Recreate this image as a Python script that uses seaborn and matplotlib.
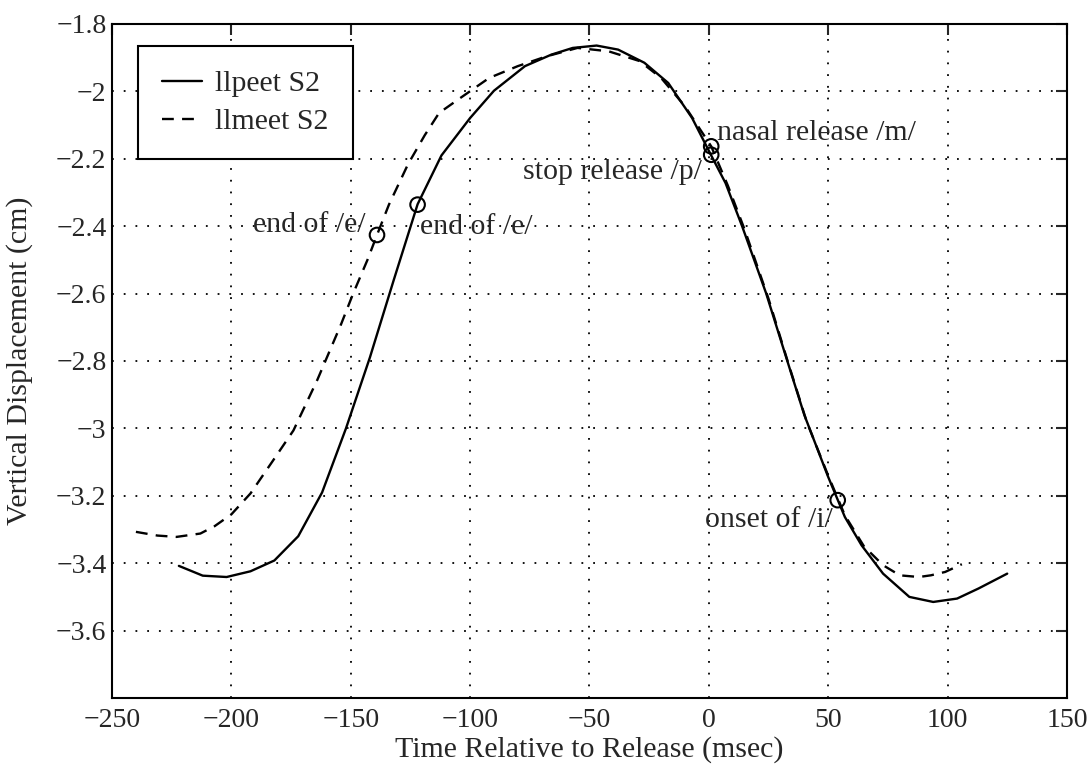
import numpy as np
import pandas as pd
import matplotlib
matplotlib.use("Agg")
import matplotlib.pyplot as plt
import seaborn as sns

# ---- data ----
peet_t = [-222, -212, -202, -192, -182, -172, -162, -152, -142, -132, -122, -112,
          -100, -90, -77, -66, -57, -47, -38, -27, -17, -7, 1, 7, 14, 24, 32, 40,
          50, 57, 64, 73, 84, 94, 104, 113, 125]
peet_y = [-3.408, -3.437, -3.441, -3.424, -3.392, -3.320, -3.190, -3.000, -2.790,
          -2.560, -2.335, -2.190, -2.079, -1.998, -1.925, -1.891, -1.871, -1.864,
          -1.876, -1.915, -1.975, -2.079, -2.190, -2.272, -2.401, -2.599, -2.780,
          -2.960, -3.144, -3.263, -3.347, -3.431, -3.500, -3.515, -3.505, -3.475,
          -3.431]

meet_t = [-240, -231, -223, -213, -207, -200, -192, -183, -174, -164, -154, -149,
          -143, -139, -134, -126, -119, -113, -105, -92, -80, -68, -55, -42, -29,
          -20, -10, 1, 8, 15, 25, 33, 41, 50, 57, 65, 73, 80, 88, 93, 99, 106]
meet_y = [-3.307, -3.318, -3.322, -3.312, -3.290, -3.255, -3.193, -3.100, -3.006,
          -2.856, -2.690, -2.600, -2.500, -2.426, -2.336, -2.216, -2.130, -2.064,
          -2.024, -1.960, -1.925, -1.896, -1.871, -1.881, -1.910, -1.960, -2.044,
          -2.163, -2.280, -2.410, -2.615, -2.800, -2.980, -3.140, -3.258, -3.350,
          -3.406, -3.436, -3.441, -3.436, -3.426, -3.403]

series_names = ["llpeet S2", "llmeet S2"]

event_labels = ["end of /e/", "end of /e/", "nasal release /m/", "stop release /p/", "onset of /i/"]
event_t = [-139, -122, 1, 1, 54]
event_y = [-2.426, -2.336, -2.163, -2.188, -3.213]

x_ticks = [-250, -200, -150, -100, -50, 0, 50, 100, 150]
y_ticks = [-3.6, -3.4, -3.2, -3.0, -2.8, -2.6, -2.4, -2.2, -2.0, -1.8]
y_ticklabels = ["\u22123.6", "\u22123.4", "\u22123.2", "\u22123", "\u22122.8", "\u22122.6",
                "\u22122.4", "\u22122.2", "\u22122", "\u22121.8"]

# ---- build frames ----
df = pd.concat([
    pd.DataFrame({"t": peet_t, "y": peet_y, "series": series_names[0]}),
    pd.DataFrame({"t": meet_t, "y": meet_y, "series": series_names[1]}),
], ignore_index=True)
ev = pd.DataFrame({"t": event_t, "y": event_y, "label": event_labels})

sns.set_style("white")
plt.rcParams["font.family"] = ["Liberation Serif", "DejaVu Serif"]
plt.rcParams["axes.unicode_minus"] = True

fig = plt.figure(figsize=(10.92, 7.74), dpi=100)
ax = fig.add_axes([0.1026, 0.0982, 0.8744, 0.8708])

sns.lineplot(data=df, x="t", y="y", style="series", color="black", sort=False,
             estimator=None, linewidth=1.7,
             dashes={series_names[0]: "", series_names[1]: (5, 3.5)},
             ax=ax, legend=True)

sns.scatterplot(data=ev, x="t", y="y", marker="o", s=110, facecolors="none",
                edgecolor="black", linewidth=1.5, ax=ax, legend=False, zorder=5)

fs_tick = 20
fs = 21.5
# annotations (positions relative to event points)
ax.text(event_t[0] - 5, event_y[0] + 0.03, event_labels[0], ha="right", va="center", fontsize=fs)
ax.text(event_t[1] + 1, event_y[1] - 0.065, event_labels[1], ha="left", va="center", fontsize=fs)
ax.text(event_t[2] + 2.5, event_y[2] + 0.04, event_labels[2], ha="left", va="center", fontsize=fs)
ax.text(event_t[3] - 4, event_y[3] - 0.05, event_labels[3], ha="right", va="center", fontsize=fs)
ax.text(event_t[4] - 2, event_y[4] - 0.06, event_labels[4], ha="right", va="center", fontsize=fs)

ax.set_xlim(-250, 150)
ax.set_ylim(-3.8, -1.8)
ax.set_xticks(x_ticks)
ax.set_xticklabels([str(v).replace("-", "\u2212") for v in x_ticks])
ax.set_yticks(y_ticks)
ax.set_yticklabels(y_ticklabels)
ax.tick_params(direction="in", length=8, width=1.5, top=True, right=True,
               labelsize=fs_tick, pad=7)
ax.tick_params(axis="y", pad=4)

ax.grid(True, color="black", linestyle=(0, (1, 5.5)), linewidth=1.3)
for s in ax.spines.values():
    s.set_color("black")
    s.set_linewidth(1.5)

ax.set_xlabel("Time Relative to Release (msec)", fontsize=fs)
ax.set_ylabel("Vertical Displacement (cm)", fontsize=fs)
ax.xaxis.set_label_coords(0.5, -0.056)
ax.yaxis.set_label_coords(-0.083, 0.5)

leg = ax.legend(loc="upper left", bbox_to_anchor=(0.027, 0.967), borderaxespad=0,
                fontsize=fs, frameon=True, fancybox=False, edgecolor="black",
                handlelength=1.35, handletextpad=0.45, borderpad=0.8,
                labelspacing=0.37, title=None)
leg.get_frame().set_linewidth(1.5)
leg.get_frame().set_alpha(1)

fig.savefig("out.png", dpi=100)
